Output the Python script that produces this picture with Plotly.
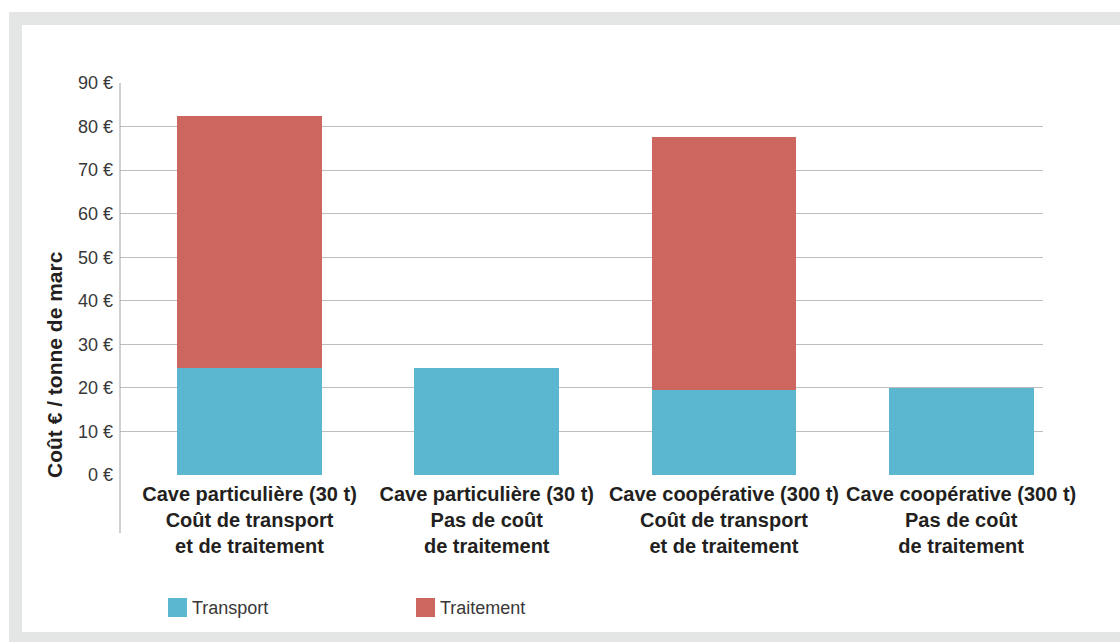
import plotly.graph_objects as go

# Categories (two-line captions under each bar)
categories = [
    "Cave particulière (30 t)<br>Coût de transport<br>et de traitement",
    "Cave particulière (30 t)<br>Pas de coût<br>de traitement",
    "Cave coopérative (300 t)<br>Coût de transport<br>et de traitement",
    "Cave coopérative (300 t)<br>Pas de coût<br>de traitement",
]
series_names = ["Transport", "Traitement"]
transport = [24.5, 24.5, 19.5, 20.0]
traitement = [58.0, 0.0, 58.0, 0.0]
y_ticks = [0, 10, 20, 30, 40, 50, 60, 70, 80, 90]
y_tick_labels = [f"{v} €" for v in y_ticks]
y_title = "Coût € / tonne de marc"

colors = ["#5BB7D0", "#CD665F"]

W, H = 1120, 642
L, R, T, B = 120, 77, 83, 167
PW, PH = W - L - R, H - T - B


def px(x):
    return (x - L) / PW


def py(y):
    return (H - B - y) / PH


xpos = list(range(len(categories)))

fig = go.Figure()
for name, vals, col in zip(series_names, [transport, traitement], colors):
    fig.add_trace(go.Bar(
        x=xpos, y=vals, name=name, marker=dict(color=col, line=dict(width=0)),
        width=0.61, showlegend=False,
    ))

bold_family = "Liberation Sans Narrow, Arial Narrow, Liberation Sans"
label_font = dict(family=bold_family, size=20, color="#231f20", weight="bold")
light_font = dict(family="Liberation Sans", size=18, color="#383838")

fig.update_layout(
    width=W, height=H,
    margin=dict(l=L, r=R, t=T, b=B),
    barmode="stack",
    paper_bgcolor="white",
    plot_bgcolor="rgba(0,0,0,0)",
    xaxis=dict(
        range=[-0.546, 3.345],
        tickmode="array", tickvals=xpos, ticktext=categories,
        tickfont=label_font, showgrid=False, zeroline=False,
        showline=False, ticks="", ticklabelstandoff=5,
    ),
    yaxis=dict(
        range=[0, 90],
        tickmode="array", tickvals=y_ticks, ticktext=y_tick_labels,
        tickfont=light_font, showgrid=True, gridcolor="#bdbdbd", gridwidth=1.4,
        zeroline=False, showline=False, ticks="", ticklabelstandoff=6,
    ),
    bargap=0,
)

shapes = [
    # grey frame with white panel
    dict(type="rect", xref="paper", yref="paper", layer="below",
         x0=px(9), x1=px(W + 5), y0=py(12), y1=py(H + 5),
         fillcolor="#e4e6e5", line=dict(width=0)),
    dict(type="rect", xref="paper", yref="paper", layer="below",
         x0=px(22), x1=px(W + 5), y0=py(25), y1=py(632),
         fillcolor="white", line=dict(width=0)),
    # left axis line extending through the category captions
    dict(type="line", xref="paper", yref="paper",
         x0=0, x1=0, y0=py(533), y1=1, line=dict(color="#a0a0a0", width=1)),
]

annotations = [
    dict(text=y_title, xref="paper", yref="paper", x=px(54), y=py(365),
         textangle=-90, showarrow=False, xanchor="center", yanchor="middle",
         font=dict(family=bold_family, size=21, color="#231f20", weight="bold")),
]

# Legend drawn as swatches with captions
legend_x = [168, 416]
for name, col, lx in zip(series_names, colors, legend_x):
    shapes.append(dict(type="rect", xref="paper", yref="paper",
                       x0=px(lx), x1=px(lx + 19), y0=py(598), y1=py(617),
                       fillcolor=col, line=dict(width=0)))
    annotations.append(dict(text=name, xref="paper", yref="paper",
                            x=px(lx + 22), y=py(608), xanchor="left", yanchor="middle",
                            showarrow=False,
                            font=dict(family="Liberation Sans", size=18, color="#383838")))

fig.update_layout(shapes=shapes, annotations=annotations)

fig.write_html("out.html")
